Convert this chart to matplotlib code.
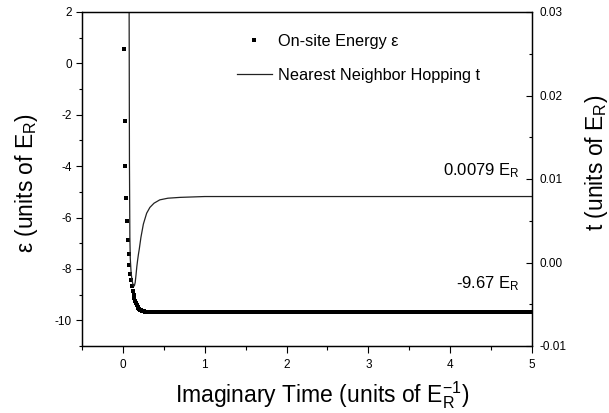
import numpy as np
import matplotlib
matplotlib.use("Agg")
import matplotlib.pyplot as plt
from matplotlib.ticker import MultipleLocator

plt.rcParams['font.family'] = ['Liberation Sans', 'DejaVu Sans']
plt.rcParams['mathtext.fontset'] = 'custom'
plt.rcParams['mathtext.rm'] = 'Liberation Sans'
plt.rcParams['mathtext.it'] = 'Liberation Sans'

# ---- data ----
time_step = 0.01
t_end = 5.0
eps_transient = [0.55, -2.26, -4.0, -5.23, -6.15, -6.87, -7.4, -7.85, -8.2, -8.45,
                 -8.68, -8.87, -9.02, -9.15, -9.25, -9.34, -9.41, -9.47, -9.51, -9.55,
                 -9.58, -9.60, -9.62, -9.63, -9.64, -9.65, -9.66, -9.66, -9.66, -9.66]
eps_final = -9.67

hop_time = [0.068, 0.072, 0.076, 0.080, 0.085, 0.090, 0.100, 0.110, 0.120, 0.130, 0.140,
            0.150, 0.160, 0.170, 0.180, 0.190, 0.200, 0.220, 0.250, 0.290, 0.330,
            0.380, 0.450, 0.550, 0.700, 1.000, 5.000]
hop_vals = [0.20, 0.06, 0.03, 0.012, 0.003, 0.0005, -0.0012, -0.0020, -0.0025, -0.0028, -0.0028,
            -0.0024, -0.0015, -0.0005, 0.0003, 0.0010, 0.0016, 0.0030, 0.0046, 0.0059, 0.0066,
            0.0071, 0.0075, 0.0077, 0.0078, 0.0079, 0.0079]

x_ticks = [0, 1, 2, 3, 4, 5]
eps_ticks = [2, 0, -2, -4, -6, -8, -10]
hop_ticks = [0.03, 0.02, 0.01, 0.00, -0.01]

# build series
n_total = int(round(t_end / time_step))
eps_time = np.arange(1, n_total + 1) * time_step
eps_vals = np.array(eps_transient + [eps_final] * (n_total - len(eps_transient)))

# ---- figure ----
W, H = 609, 413
fig = plt.figure(figsize=(W / 100, H / 100), dpi=100)
ax = fig.add_axes([82 / W, 1 - 346 / H, 450 / W, 334 / H])
ax2 = ax.twinx()

ms = 2.6
ax.plot(eps_time, eps_vals, linestyle='none', marker='s', markersize=ms,
        color='black', markeredgewidth=0, label='On-site Energy \u03b5')
ax2.plot(hop_time, hop_vals, color='#222222', linewidth=0.9,
         label='Nearest Neighbor Hopping t')

ax.set_xlim(-0.5, 5)
ax.set_ylim(-11, 2)
ax2.set_ylim(-0.01, 0.03)

ax.xaxis.set_minor_locator(MultipleLocator(0.5))
ax.yaxis.set_minor_locator(MultipleLocator(1))
ax2.yaxis.set_minor_locator(MultipleLocator(0.005))

ax.set_xticks(x_ticks)
ax.set_xticklabels([str(v) for v in x_ticks])
ax.set_yticks(eps_ticks)
ax.set_yticklabels([str(v) for v in eps_ticks])
ax2.set_yticks(hop_ticks)
ax2.set_yticklabels(['%.2f' % v for v in hop_ticks])

ax.tick_params(axis='x', which='major', direction='out', length=5, width=0.8,
               labelsize=8.5, pad=4, top=False)
ax.tick_params(axis='x', which='minor', direction='out', length=3, width=0.8, top=False)
ax.tick_params(axis='y', which='major', direction='out', length=4.3, width=0.8,
               labelsize=8.5, pad=3)
ax.tick_params(axis='y', which='minor', direction='out', length=2.5, width=0.8)
ax2.tick_params(axis='y', which='major', direction='in', length=4.3, width=0.8,
                labelsize=8.5, pad=5.5)
ax2.tick_params(axis='y', which='minor', direction='in', length=2.5, width=0.8)

for a in (ax, ax2):
    for s in a.spines.values():
        s.set_linewidth(0.9)

# axis labels
lab_fs = 16.5
fig.text(27 / W, 1 - 183 / H, '\u03b5 (units of E$_{\\rm R}$)', rotation=90,
         ha='center', va='center', fontsize=lab_fs)
fig.text(597 / W, 1 - 163 / H, 't (units of E$_{\\rm R}$)', rotation=90,
         ha='center', va='center', fontsize=lab_fs)
fig.text(322 / W, 1 - 395 / H, 'Imaginary Time (units of E$_{\\rm R}^{-1}$)',
         ha='center', va='center', fontsize=lab_fs)

# annotations
ax2.text(4.85, 0.0110, '0.0079 E$_{\\rm R}$', ha='right', va='center', fontsize=12)
ax.text(4.85, -8.59, '-9.67 E$_{\\rm R}$', ha='right', va='center', fontsize=12)

# legend
h1, l1 = ax.get_legend_handles_labels()
h2, l2 = ax2.get_legend_handles_labels()
leg = ax2.legend(h1 + h2, l1 + l2, loc='upper left',
                 bbox_to_anchor=(237 / W, 1 - 34 / H), bbox_transform=fig.transFigure,
                 frameon=False, fontsize=11.7, handlelength=2.15, handletextpad=0.37,
                 labelspacing=1.15, borderpad=0, borderaxespad=0, numpoints=1,
                 markerscale=1.0)

fig.savefig('out.png', dpi=100)
